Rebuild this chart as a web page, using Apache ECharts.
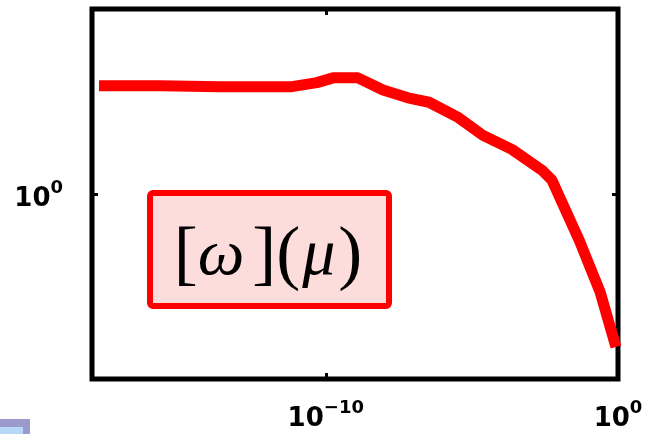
<!DOCTYPE html>
<html><head><meta charset="utf-8">
<script src="https://cdn.jsdelivr.net/npm/echarts@6/dist/echarts.min.js"></script>
<style>html,body{margin:0;padding:0;background:#fff}#c{width:654px;height:434px}</style>
</head><body><div id="c"></div>
<script>
// data (log-log axes)
const xValues = [1.74e-18, 2.14e-16, 2.4e-14, 6.9e-12, 5.0e-11, 1.78e-10, 1.26e-9, 9.1e-9, 6.5e-8, 3.4e-7, 3.4e-6, 2.4e-5, 2.34e-4, 2.5e-3, 5.5e-3, 0.047, 0.245, 0.85];
const yValues = [1.96, 1.96, 1.95, 1.95, 2.00, 2.06, 2.06, 1.91, 1.82, 1.77, 1.61, 1.44, 1.32, 1.16, 1.09, 0.75, 0.543, 0.386];
const xTickExponents = [-10, 0];
const yTickExponents = [0];
const xRange = [1e-18, 1];
const yRange = [Math.pow(10, -0.5), Math.pow(10, 0.5)];
const annotationParts = ['[', 'ω', ']', '(', 'μ', ')'];

const chart = echarts.init(document.getElementById('c'), null, {renderer: 'canvas'});

function makeFormatter(list) {
  return function (v) {
    const l = Math.log10(v);
    const e = Math.round(l);
    if (Math.abs(l - e) > 1e-6 || list.indexOf(e) < 0) return '';
    return '{b|10}{s|' + String(e).replace('-', '\u2212') + '}';
  };
}
const labelRich = {
  b: {fontFamily: 'DejaVu Sans', fontWeight: 'bold', fontSize: 26, color: '#000', lineHeight: 40},
  s: {fontFamily: 'DejaVu Sans', fontWeight: 'bold', fontSize: 18, color: '#000', lineHeight: 18, verticalAlign: 'top'}
};
const tick = {show: true, inside: true, length: 6, lineStyle: {color: '#000', width: 3}};

const data = xValues.map((x, i) => [x, yValues[i]]);

chart.setOption({
  animation: false,
  grid: {left: 92, right: 36, top: 9, bottom: 55, show: true, borderColor: '#000', borderWidth: 5, backgroundColor: 'transparent'},
  xAxis: [
    {type: 'log', logBase: 10, min: xRange[0], max: xRange[1], position: 'bottom',
     axisLine: {show: false}, axisTick: tick, splitLine: {show: false}, minorTick: {show: false},
     axisLabel: {margin: 20, formatter: makeFormatter(xTickExponents), rich: labelRich, showMinLabel: true, showMaxLabel: true}},
    {type: 'log', logBase: 10, min: xRange[0], max: xRange[1], position: 'top',
     axisLine: {show: false}, axisTick: tick, splitLine: {show: false}, axisLabel: {show: false}}
  ],
  yAxis: [
    {type: 'log', logBase: 10, min: yRange[0], max: yRange[1], position: 'left',
     axisLine: {show: false}, axisTick: tick, splitLine: {show: false},
     axisLabel: {margin: 29, padding: [10, 0, 0, 0], formatter: makeFormatter(yTickExponents), rich: labelRich}},
    {type: 'log', logBase: 10, min: yRange[0], max: yRange[1], position: 'right',
     axisLine: {show: false}, axisTick: tick, splitLine: {show: false}, axisLabel: {show: false}}
  ],
  series: [{
    type: 'line', xAxisIndex: 0, yAxisIndex: 0, data: data, showSymbol: false, symbol: 'none',
    lineStyle: {color: '#ff0000', width: 11, join: 'round', cap: 'butt'}
  }],
  graphic: [
    {type: 'rect', left: 147, top: 190, shape: {width: 239, height: 113, r: 3},
     style: {fill: '#fddcdc', stroke: '#ff0000', lineWidth: 6}, z: 10},
    {type: 'text', x: 268, y: 257, z: 11,
     style: {
       text: '{br|' + annotationParts[0] + '}{it|' + annotationParts[1] + '}{br|' + annotationParts[2] + '}{br|' + annotationParts[3] + '}{it2|' + annotationParts[4] + '}{br|' + annotationParts[5] + '}',
       align: 'center', verticalAlign: 'middle',
       rich: {
         br: {fontFamily: 'Liberation Serif', fontSize: 72, color: '#000'},
         it: {fontFamily: 'Liberation Serif', fontStyle: 'italic', fontSize: 66, color: '#000', padding: [0, 8, 0, 0]},
         it2: {fontFamily: 'Liberation Serif', fontStyle: 'italic', fontSize: 66, color: '#000', padding: [0, 3, 0, 2]}
       }
     }},
    {type: 'rect', left: -8, top: 419, shape: {width: 38, height: 24},
     style: {fill: '#9c9acc'}, z: 10},
    {type: 'rect', left: -8, top: 427, shape: {width: 31, height: 16},
     style: {fill: '#b9d7f7'}, z: 11}
  ]
});
</script></body></html>
